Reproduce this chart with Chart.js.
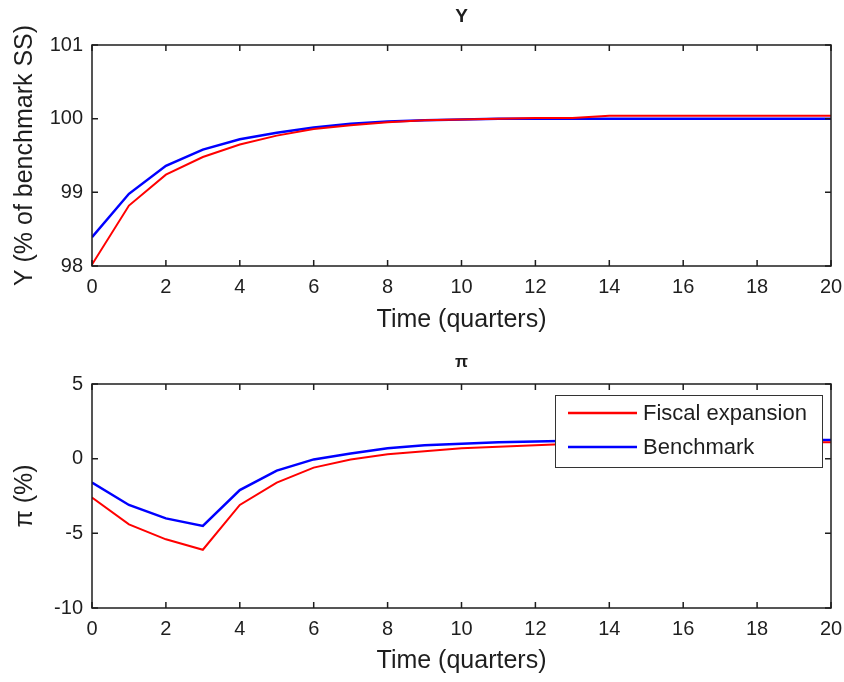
<!DOCTYPE html>
<html>
<head>
<meta charset="utf-8">
<script src="https://cdn.jsdelivr.net/npm/chart.js@4"></script>
<style>
  html, body { margin: 0; padding: 0; background: #fff; }
  #wrap { position: relative; width: 844px; height: 682px; }
  .panel { position: absolute; left: 0; width: 844px; height: 341px; }
</style>
</head>
<body>
<div id="wrap">
  <div class="panel" style="top:0"><canvas id="outputChart"></canvas></div>
  <div class="panel" style="top:341px"><canvas id="inflationChart"></canvas></div>
</div>
<script>
const quarters = [0, 1, 2, 3, 4, 5, 6, 7, 8, 9, 10, 11, 12, 13, 14, 15, 16, 17, 18, 19, 20];

// output, % of benchmark steady state
const outputFiscal    = [98.02, 98.82, 99.24, 99.48, 99.65, 99.77, 99.86, 99.91, 99.95, 99.98, 99.99, 100.0, 100.01, 100.01, 100.04, 100.04, 100.04, 100.04, 100.04, 100.04, 100.04];
const outputBenchmark = [98.39, 98.98, 99.36, 99.58, 99.72, 99.81, 99.88, 99.93, 99.96, 99.98, 99.99, 100.0, 100.0, 100.0, 100.0, 100.0, 100.0, 100.0, 100.0, 100.0, 100.0];

// inflation, %
const inflFiscal    = [-2.6, -4.4, -5.4, -6.1, -3.1, -1.6, -0.6, -0.05, 0.3, 0.5, 0.7, 0.8, 0.9, 1.0, 1.05, 1.1, 1.1, 1.1, 1.1, 1.1, 1.1];
const inflBenchmark = [-1.6, -3.1, -4.0, -4.5, -2.1, -0.8, -0.05, 0.35, 0.7, 0.9, 1.0, 1.1, 1.15, 1.2, 1.25, 1.25, 1.25, 1.25, 1.25, 1.25, 1.25];

const seriesNames = ["Fiscal expansion", "Benchmark"];
const seriesColors = ["#ff0000", "#0000ff"];

const FONT = "'Liberation Sans', Arial, sans-serif";
const INK = "#1e1e1e";

function points(values) {
  return quarters.map((q, i) => ({ x: q, y: values[i] }));
}

// box round the plot, inward ticks, title and (optional) legend
const framePlugin = {
  id: "frame",
  afterDraw(chart, args, opts) {
    const ctx = chart.ctx;
    const a = chart.chartArea;
    const xs = chart.scales.x, ys = chart.scales.y;
    ctx.save();
    ctx.strokeStyle = INK;
    ctx.lineWidth = 1.5;
    ctx.strokeRect(a.left, a.top, a.right - a.left, a.bottom - a.top);
    ctx.beginPath();
    const len = 6;
    for (const t of xs.ticks) {
      const px = xs.getPixelForValue(t.value);
      ctx.moveTo(px, a.bottom); ctx.lineTo(px, a.bottom - len);
      ctx.moveTo(px, a.top); ctx.lineTo(px, a.top + len);
    }
    for (const t of ys.ticks) {
      const py = ys.getPixelForValue(t.value);
      ctx.moveTo(a.left, py); ctx.lineTo(a.left + len, py);
      ctx.moveTo(a.right, py); ctx.lineTo(a.right - len, py);
    }
    ctx.stroke();

    ctx.fillStyle = INK;
    ctx.font = "bold " + opts.titleSize + "px " + FONT;
    ctx.textAlign = "center";
    ctx.textBaseline = "middle";
    ctx.fillText(opts.title, (a.left + a.right) / 2, opts.titleY);

    if (opts.legend) {
      const w = 267, h = 72;
      const lx = a.right - 9 - w, ly = a.top + 11;
      ctx.fillStyle = "#fff";
      ctx.fillRect(lx, ly, w, h);
      ctx.strokeStyle = "#333";
      ctx.lineWidth = 1;
      ctx.strokeRect(lx + 0.5, ly + 0.5, w, h);
      ctx.font = "22px " + FONT;
      ctx.textAlign = "left";
      chart.data.datasets.forEach((ds, i) => {
        const ry = ly + 18 + i * 34;
        ctx.strokeStyle = ds.borderColor;
        ctx.lineWidth = 2.5;
        ctx.beginPath();
        ctx.moveTo(lx + 13, ry); ctx.lineTo(lx + 82, ry);
        ctx.stroke();
        ctx.fillStyle = INK;
        ctx.fillText(ds.label, lx + 88, ry + 1);
      });
    }
    ctx.restore();
  }
};

function makeChart(id, fiscal, bench, yOpts, layout) {
  return new Chart(id, {
    type: "line",
    data: {
      datasets: [
        { label: seriesNames[0], data: points(fiscal), borderColor: seriesColors[0], borderWidth: 2, pointRadius: 0, tension: 0 },
        { label: seriesNames[1], data: points(bench), borderColor: seriesColors[1], borderWidth: 2.5, pointRadius: 0, tension: 0 },
      ],
    },
    options: {
      responsive: true,
      maintainAspectRatio: false,
      animation: false,
      layout: { padding: { top: layout.top, right: 13, left: 0, bottom: 0 } },
      scales: {
        x: {
          type: "linear",
          min: 0, max: 20,
          ticks: { stepSize: 2, color: INK, font: { family: FONT, size: 20 }, padding: 9, maxRotation: 0 },
          grid: { display: false, drawTicks: false },
          border: { display: false },
          title: { display: true, text: "Time (quarters)", color: INK, font: { family: FONT, size: 25 }, padding: { top: 0, bottom: 6 } },
          afterFit(scale) {
            scale.height = layout.xHeight;
            scale.paddingLeft = 0;
            scale.paddingRight = 0;
          },
        },
        y: {
          min: yOpts.min, max: yOpts.max,
          ticks: { stepSize: yOpts.step, color: INK, font: { family: FONT, size: 20 }, padding: 9 },
          grid: { display: false, drawTicks: false },
          border: { display: false },
          title: { display: true, text: yOpts.title, color: INK, font: { family: FONT, size: 25 }, padding: { top: 10, bottom: 0 } },
          afterFit(scale) {
            scale.width = 92;
            scale.paddingTop = 0;
            scale.paddingBottom = 0;
          },
        },
      },
      plugins: {
        legend: { display: false },
        tooltip: { enabled: false },
        frame: { title: layout.title, titleY: layout.titleY, titleSize: layout.titleSize, legend: layout.legend },
      },
    },
    plugins: [framePlugin],
  });
}

makeChart("outputChart", outputFiscal, outputBenchmark,
  { min: 98, max: 101, step: 1, title: "Y (% of benchmark SS)" },
  { top: 45, xHeight: 75, title: "Y", titleY: 17, titleSize: 19, legend: false });

makeChart("inflationChart", inflFiscal, inflBenchmark,
  { min: -10, max: 5, step: 5, title: "\u03c0 (%)" },
  { top: 43, xHeight: 74, title: "\u03c0", titleY: 21, titleSize: 17, legend: true });
</script>
</body>
</html>
